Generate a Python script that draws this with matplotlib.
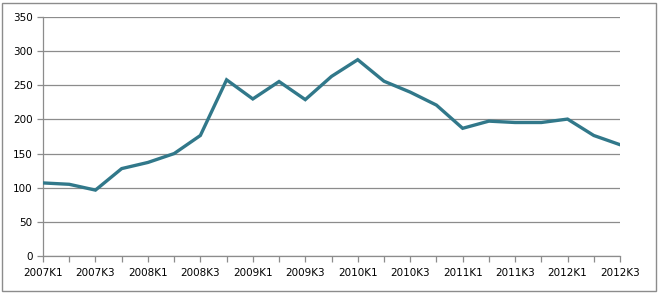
import matplotlib
matplotlib.use("Agg")
import matplotlib.pyplot as plt
from matplotlib.patches import Rectangle

quarters = [f"{y}K{q}" for y in range(2007, 2013) for q in range(1, 5)][:23]
values = [107, 105, 96.5, 128, 137, 150, 176.5, 258, 230, 255.5, 229, 263,
          287.5, 256, 240, 221, 187, 197.5, 195.5, 195.5, 200.5, 176.5, 163]
yticks = [0, 50, 100, 150, 200, 250, 300, 350]

fig = plt.figure(figsize=(6.59, 2.93), dpi=100)
ax = fig.add_axes([43/659, 1-256/293, (620-43)/659, (256-17)/293])

x = list(range(len(quarters)))
ax.plot(x, values, color="#31788a", lw=2.4, solid_joinstyle="miter", zorder=3)

ax.set_xlim(0, len(quarters)-1)
ax.set_ylim(0, 350)
ax.set_yticks(yticks)
ax.set_yticklabels([str(v) for v in yticks])
ax.set_xticks(x)
ax.set_xticklabels([q if i % 2 == 0 else "" for i, q in enumerate(quarters)])
ax.grid(axis="y", color="#8c8c8c", lw=0.9)
ax.set_axisbelow(True)
for s in ["top", "right"]:
    ax.spines[s].set_visible(False)
for s in ["left", "bottom"]:
    ax.spines[s].set_color("#8c8c8c")
    ax.spines[s].set_linewidth(0.9)
ax.tick_params(axis="both", colors="#8c8c8c", length=4, width=0.9,
               labelsize=7.5, labelcolor="black")
ax.tick_params(axis="x", pad=5)

fig.patches.append(Rectangle((2/659, 2/293), 654/659, 288/293, transform=fig.transFigure,
                             fill=False, edgecolor="#8c8c8c", lw=1))
fig.savefig("out.png", dpi=100)
